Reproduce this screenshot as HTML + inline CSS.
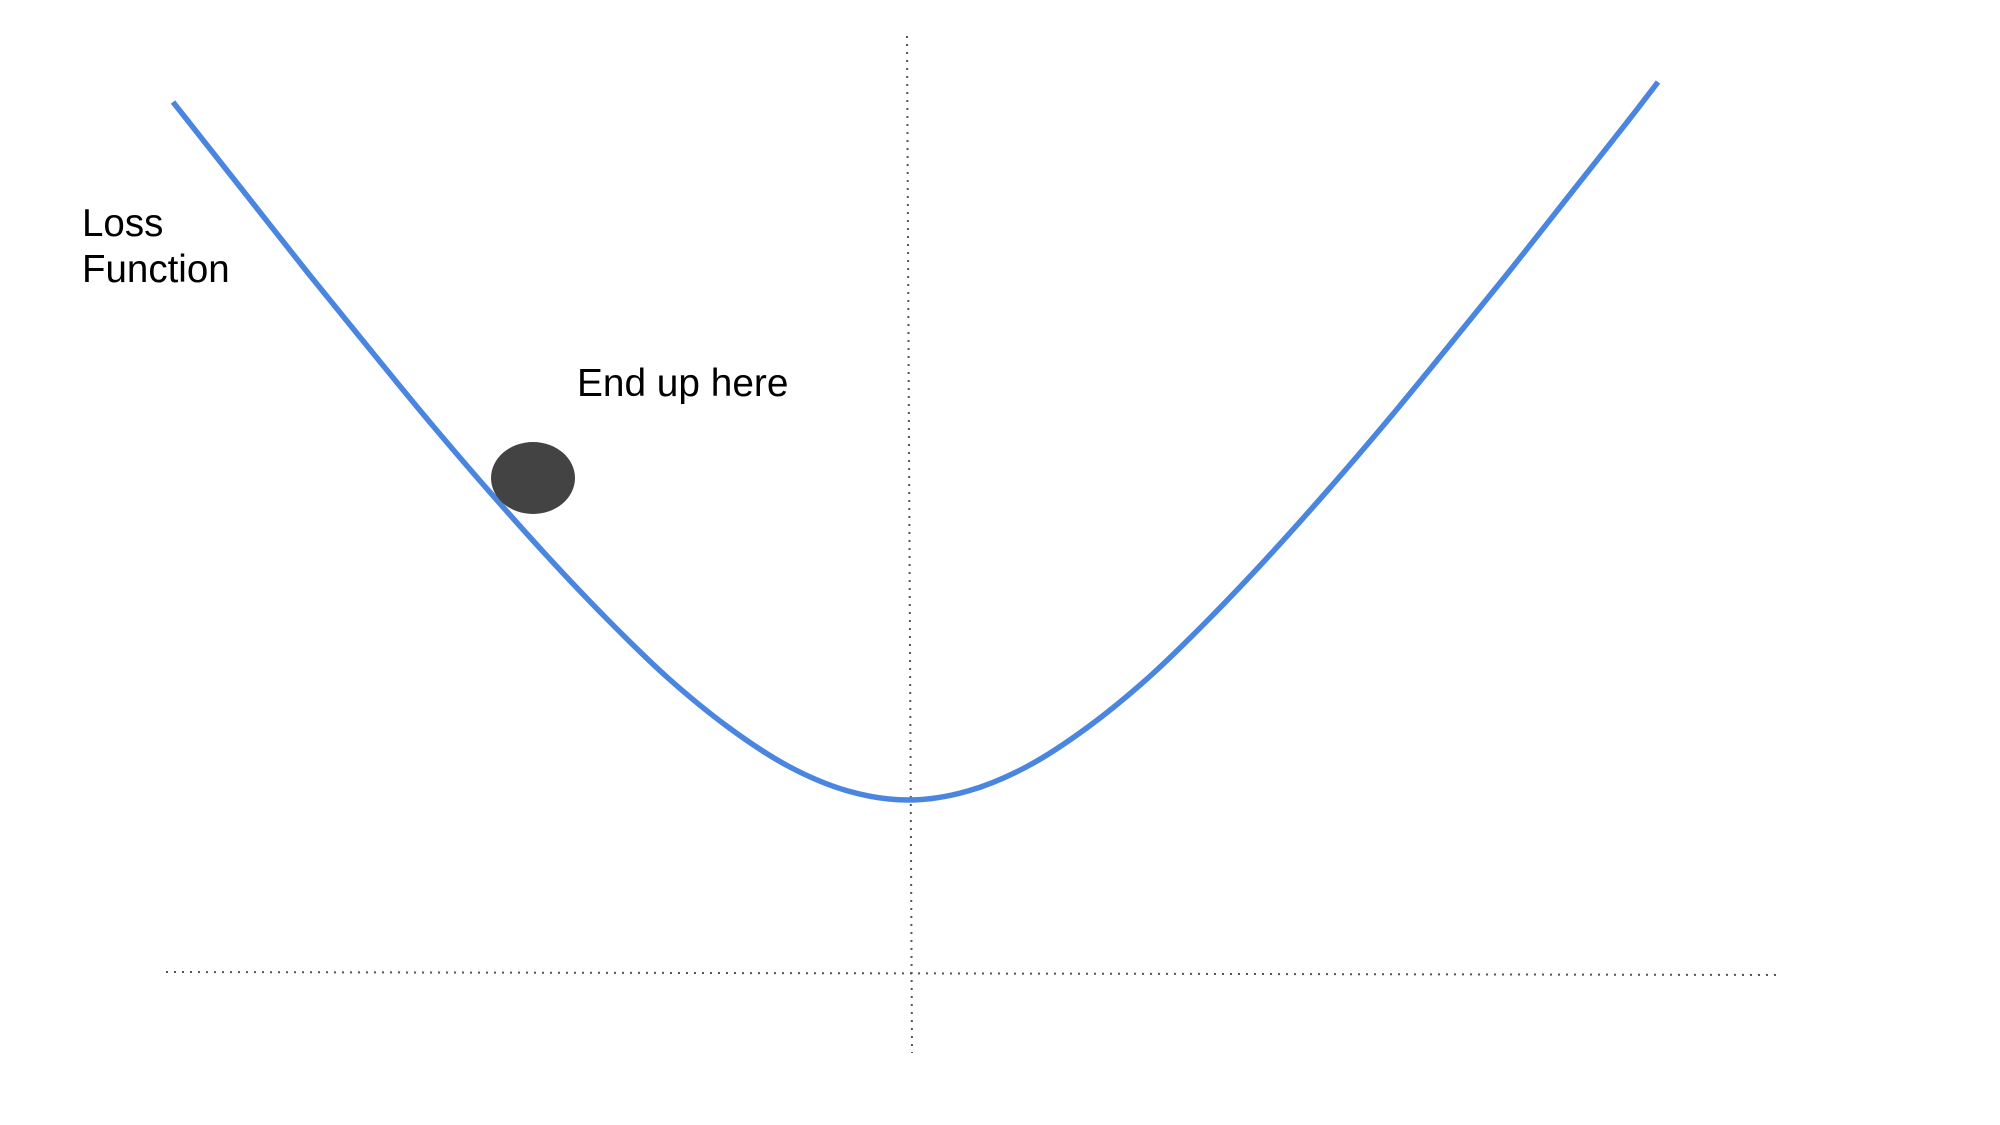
<!DOCTYPE html>
<html><head><meta charset="utf-8"><style>
html,body{margin:0;padding:0;background:#fff;width:2000px;height:1125px;overflow:hidden}
svg text{font-family:"Liberation Sans",sans-serif;fill:#000}
</style></head><body>
<svg id="chart" width="2000" height="1125" viewBox="0 0 2000 1125" xmlns="http://www.w3.org/2000/svg">
<line x1="907" y1="36" x2="912" y2="1053" stroke="#555" stroke-width="2" stroke-dasharray="2,6"/>
<line x1="166" y1="972" x2="1777" y2="975" stroke="#555" stroke-width="2" stroke-dasharray="2,6"/>
<g id="series"></g>
<text x="82" y="236" font-size="38.5">Loss</text>
<text x="82" y="282" font-size="38.5">Function</text>
<text x="577" y="396" font-size="38.8">End up here</text>
</svg>
<script>
const weights = [-7.35,-7.2,-6.6,-6.0,-5.4,-4.8,-4.2,-3.6,-3.0,-2.4,-1.8,-1.2,-0.6,0,0.6,1.2,1.8,2.4,3.0,3.6,4.2,4.8,5.4,6.0,6.6,7.2,7.5];
const lossValues = [69.8,67.9,60.3,52.7,45.3,38.0,31.0,24.3,18.0,12.2,7.3,3.4,0.9,0,0.9,3.4,7.3,12.2,18.0,24.3,31.0,38.0,45.3,52.7,60.3,67.9,71.8];
const ballWeight = [-3.75];
const ballLoss = [32.2];
function xScale(w){return 908 + w*100;}
function yScale(l){return 800 - l*10;}
const pts = weights.map((w,i)=>[xScale(w), yScale(lossValues[i])]);
let d = 'M'+pts[0][0]+','+pts[0][1];
for(let i=0;i<pts.length-1;i++){
  const p0=pts[Math.max(0,i-1)],p1=pts[i],p2=pts[i+1],p3=pts[Math.min(pts.length-1,i+2)];
  const c1=[p1[0]+(p2[0]-p0[0])/6,p1[1]+(p2[1]-p0[1])/6];
  const c2=[p2[0]-(p3[0]-p1[0])/6,p2[1]-(p3[1]-p1[1])/6];
  d+=' C'+c1[0].toFixed(1)+','+c1[1].toFixed(1)+' '+c2[0].toFixed(1)+','+c2[1].toFixed(1)+' '+p2[0]+','+p2[1];
}
const ns='http://www.w3.org/2000/svg';
const g=document.getElementById('series');
const path=document.createElementNS(ns,'path');
path.setAttribute('d',d);
path.setAttribute('fill','none');
path.setAttribute('stroke','#4a86e0');
path.setAttribute('stroke-width','5.5');


g.appendChild(path);
const ball=document.createElementNS(ns,'ellipse');
ball.setAttribute('cx',xScale(ballWeight[0]));
ball.setAttribute('cy',yScale(ballLoss[0]));
ball.setAttribute('rx','42');
ball.setAttribute('ry','36');
ball.setAttribute('fill','#434343');


g.appendChild(ball);
</script>
</body></html>
